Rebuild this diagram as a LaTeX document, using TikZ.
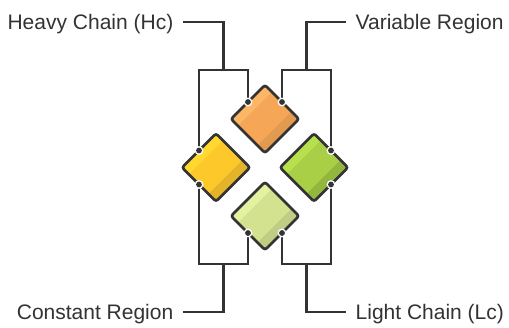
\documentclass[tikz,border=0pt]{standalone}
\usepackage{fontspec}
\setmainfont{Liberation Sans}
\usetikzlibrary{shapes.geometric,calc}
\definecolor{linec}{HTML}{333333}
\definecolor{textc}{HTML}{333333}
\definecolor{orM}{HTML}{F6A657}
\definecolor{orL}{HTML}{FCB766}
\definecolor{orD}{HTML}{E19A4F}
\definecolor{yeM}{HTML}{FCC82A}
\definecolor{yeL}{HTML}{FFD830}
\definecolor{yeD}{HTML}{E3B32A}
\definecolor{grM}{HTML}{A8CF46}
\definecolor{grL}{HTML}{B6E04E}
\definecolor{grD}{HTML}{92B63E}
\definecolor{pgM}{HTML}{D3E28F}
\definecolor{pgL}{HTML}{E3F2A0}
\definecolor{pgD}{HTML}{C0CE85}
\begin{document}
\begin{tikzpicture}[x=1pt,y=1pt,
  gem/.style n args={3}{shape=diamond, minimum width=68pt, minimum height=68pt,
    inner sep=0pt, outer sep=0pt, draw=linec, line width=2.7pt, rounded corners=2.5pt,
    fill=#1, path picture={
      \fill[#2, sharp corners] ($(path picture bounding box.center)+(-40pt,40pt)$)
        -- ($(path picture bounding box.center)+(19.6pt,40pt)$)
        -- ($(path picture bounding box.center)+(-40pt,-19.6pt)$) -- cycle;
      \fill[#3, sharp corners] ($(path picture bounding box.center)+(40pt,-40pt)$)
        -- ($(path picture bounding box.center)+(-21pt,-40pt)$)
        -- ($(path picture bounding box.center)+(40pt,21pt)$) -- cycle;
    }},
  lbl/.style={font=\fontsize{21}{25}\selectfont, text=textc, inner ysep=0pt,
    inner xsep=9.5pt, text height=15pt, text depth=0pt},
  wire/.style={draw=linec, line width=2.7pt},
  ]
\fill[white] (0,0) rectangle (509,327);
\useasboundingbox (0,0) rectangle (509,327);

% diamonds
\node[gem={orM}{orL}{orD}] (orange) at (265,208) {};
\node[gem={yeM}{yeL}{yeD}] (yellow) at (216,159.5) {};
\node[gem={grM}{grL}{grD}] (green) at (314,159.5) {};
\node[gem={pgM}{pgL}{pgD}] (pale) at (265,111) {};

% labels
\node[lbl, anchor=east] (hc) at (183,305) {Heavy Chain (Hc)};
\node[lbl, anchor=west] (vr) at (346,305) {Variable Region};
\node[lbl, anchor=east] (cr) at (183,15) {Constant Region};
\node[lbl, anchor=west] (lc) at (346,15) {Light Chain (Lc)};

% bracket junctions
\coordinate (hcm) at ($(yellow.north west)!.5!(orange.north west)$);
\coordinate (hcb) at (hcm |- 0,257);
\coordinate (vrm) at ($(orange.north east)!.5!(green.north east)$);
\coordinate (vrb) at (vrm |- 0,257);
\coordinate (crm) at ($(yellow.south west)!.5!(pale.south west)$);
\coordinate (crb) at (crm |- 0,63);
\coordinate (lcm) at ($(pale.south east)!.5!(green.south east)$);
\coordinate (lcb) at (lcm |- 0,63);

% connectors
\draw[wire] (yellow.north west) -- (yellow.north west |- hcb) -- (orange.north west |- hcb) -- (orange.north west);
\draw[wire] (hc.east) -| (hcb);
\draw[wire] (orange.north east) -- (orange.north east |- vrb) -- (green.north east |- vrb) -- (green.north east);
\draw[wire] (vr.west) -| (vrb);
\draw[wire] (yellow.south west) -- (yellow.south west |- crb) -- (pale.south west |- crb) -- (pale.south west);
\draw[wire] (cr.east) -| (crb);
\draw[wire] (pale.south east) -- (pale.south east |- lcb) -- (green.south east |- lcb) -- (green.south east);
\draw[wire] (lc.west) -| (lcb);

% end dots
\foreach \p in {orange.north west, orange.north east, yellow.north west, yellow.south west,
                green.north east, green.south east, pale.south west, pale.south east} {
  \fill[white] (\p) circle (4.4pt);
  \fill[linec] (\p) circle (2.9pt);
}
\end{tikzpicture}
\end{document}
